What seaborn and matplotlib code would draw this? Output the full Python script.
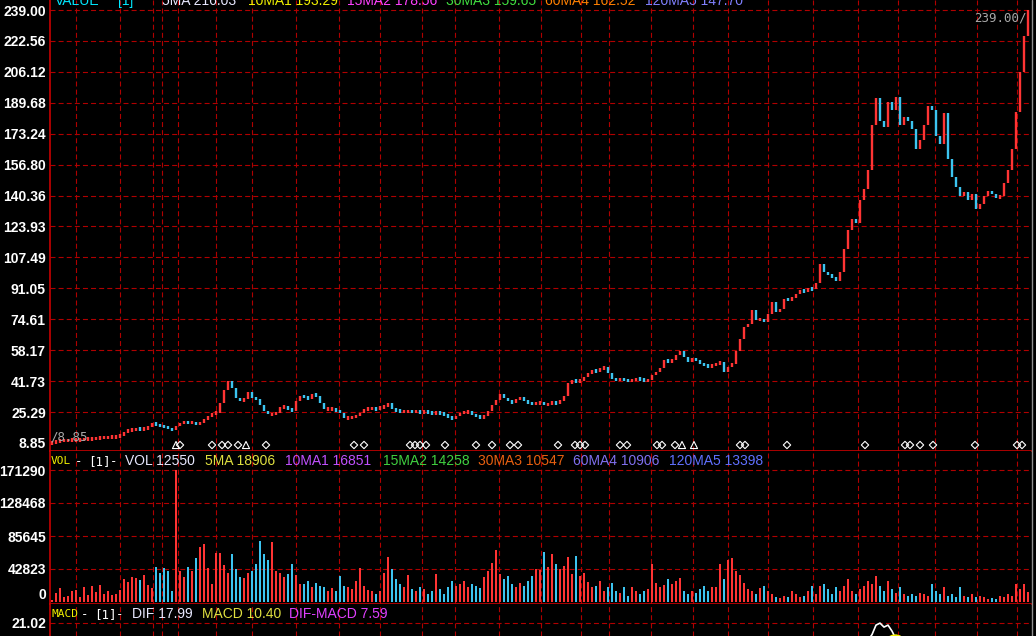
import numpy as np
import pandas as pd
import seaborn as sns
import matplotlib.pyplot as plt
from matplotlib.lines import Line2D

# --- данные (один бар = 2 торговых дня) ---
closes = [
    8.9, 9.6, 10.0, 10.2, 10.3, 10.4, 10.5, 10.7, 10.9, 11.0,
    11.2, 11.4, 11.6, 11.8, 11.9, 12.0, 12.3, 12.6, 14.5, 15.8,
    16.0, 16.2, 16.1, 16.4, 17.5, 19.5, 18.5, 17.8, 17.5, 16.5,
    15.5, 18.0, 19.5, 19.8, 19.5, 19.8, 18.8, 19.5, 21.5, 23.0,
    24.5, 25.0, 30.0, 37.0, 42.0, 38.0, 33.0, 31.0, 32.5, 36.0,
    33.0, 32.0, 29.0, 26.0, 24.0, 24.0, 25.0, 28.0, 28.0, 27.0,
    26.0, 31.0, 34.0, 33.0, 32.5, 35.0, 34.0, 30.0, 27.0, 27.0,
    27.0, 26.0, 25.0, 22.0, 22.0, 23.0, 23.0, 25.0, 27.0, 27.0,
    27.3, 26.8, 28.0, 28.0, 30.0, 27.0, 26.0, 25.5, 25.5, 25.8,
    25.4, 25.6, 25.3, 25.5, 25.0, 24.6, 25.0, 24.5, 24.0, 22.5,
    22.0, 23.0, 25.0, 25.0, 25.5, 24.0, 23.0, 22.5, 23.0, 26.0,
    29.0, 31.5, 35.0, 33.0, 31.0, 30.0, 32.0, 33.0, 31.5, 30.0,
    29.5, 30.0, 30.5, 29.0, 29.5, 30.5, 30.0, 31.0, 34.0, 40.5,
    42.3, 41.5, 42.0, 44.0, 45.8, 47.5, 46.8, 48.5, 49.0, 45.8,
    43.0, 42.3, 43.0, 42.3, 41.8, 42.3, 43.0, 42.5, 42.0, 42.3,
    45.0, 46.6, 48.5, 52.9, 52.0, 52.9, 55.5, 58.0, 54.6, 52.0,
    53.7, 52.9, 51.0, 50.2, 49.5, 50.2, 51.0, 52.0, 46.5, 49.3,
    51.0, 58.0, 64.3, 70.5, 72.0, 79.4, 74.0, 75.0, 73.0, 77.6,
    84.0, 78.5, 80.2, 85.5, 84.7, 86.0, 88.0, 90.0, 89.5, 91.0,
    90.5, 94.0, 104.0, 100.0, 98.0, 97.0, 95.0, 100.0, 112.0, 122.0,
    128.0, 126.0, 138.0, 144.0, 154.0, 178.0, 192.0, 180.0, 177.0, 190.0,
    186.0, 193.0, 178.0, 182.0, 180.0, 176.0, 165.0, 170.0, 178.0, 188.0,
    186.0, 172.0, 168.0, 184.0, 160.0, 150.0, 145.0, 140.0, 142.0, 138.0,
    141.0, 133.0, 136.0, 140.0, 143.0, 141.0, 139.0, 140.0, 147.0, 154.0,
    165.0, 185.0, 206.0, 225.0, 239.0,
]
first_open = 8.85

volumes = [
    3000, 12000, 18000, 6000, 8000, 14000, 15000, 7000, 20000, 9000,
    21000, 13000, 22000, 10000, 14000, 9000, 10000, 16000, 30000, 26000,
    33000, 31000, 28000, 35000, 22000, 18000, 45000, 38000, 44000, 40000,
    14000, 171290, 40000, 33000, 46000, 40000, 57000, 71000, 75000, 44000,
    23000, 63000, 63000, 48000, 38000, 62000, 43000, 32000, 31000, 37000,
    40000, 49000, 79000, 62000, 54000, 78000, 40000, 38000, 32000, 36000,
    49000, 35000, 23000, 24000, 27000, 19000, 25000, 21000, 19000, 14000,
    18000, 14000, 34000, 21000, 19000, 17000, 27000, 44000, 21000, 15000,
    14000, 10000, 14000, 38000, 58000, 43000, 30000, 23000, 19000, 35000,
    17000, 14000, 19000, 17000, 10000, 14000, 36000, 17000, 10000, 19000,
    27000, 21000, 23000, 27000, 19000, 24000, 21000, 18000, 32000, 40000,
    51000, 67000, 36000, 30000, 34000, 23000, 19000, 25000, 21000, 27000,
    34000, 43000, 41000, 65000, 45000, 62000, 49000, 43000, 47000, 58000,
    36000, 60000, 34000, 38000, 26000, 19000, 21000, 27000, 14000, 20000,
    25000, 14000, 12000, 19000, 8000, 20000, 14000, 10000, 14000, 17000,
    49000, 25000, 20000, 22000, 30000, 23000, 27000, 31000, 14000, 10000,
    14000, 12000, 17000, 21000, 14000, 19000, 19000, 49000, 30000, 54000,
    57000, 40000, 35000, 25000, 17000, 14000, 10000, 18000, 21000, 14000,
    10000, 6000, 5000, 8000, 6000, 14000, 10000, 7000, 8000, 14000,
    21000, 11000, 21000, 24000, 17000, 10000, 19000, 14000, 21000, 30000,
    14000, 10000, 17000, 21000, 27000, 24000, 34000, 21000, 14000, 27000,
    17000, 12000, 19000, 10000, 8000, 11000, 8000, 12000, 10000, 8000,
    23000, 14000, 10000, 19000, 8000, 10000, 6000, 19000, 8000, 7000,
    10000, 6000, 8000, 6000, 3500, 5000, 3500, 8000, 6000, 10000,
    8000, 23000, 17000, 23000, 12550,
]

price_ticks = [8.85, 25.29, 41.73, 58.17, 74.61, 91.05, 107.49, 123.93,
               140.36, 156.80, 173.24, 189.68, 206.12, 222.56, 239.00]
vol_ticks = [0, 42823, 85645, 128468, 171290]
macd_ticks = [21.02]

# границы месяцев (в номерах баров)
month_starts = [6, 17, 25.25, 27.5, 31.5, 41, 50, 61, 71.75, 82, 92.5, 100.75,
                111.75, 122.25, 132.25, 139.25, 149.75, 160.25, 169, 179,
                190.25, 201.5, 211.5, 220.75, 231.25, 241.25]

# сигнальные значки под графиком цены
diamond_idx = [32, 40, 42.5, 44, 46.5, 53.5, 75.5, 78, 89.5, 90.75, 92, 93.5,
               98.25, 106, 110, 114.5, 116.5, 126.5, 130.75, 132, 133.25, 142,
               143.75, 151.25, 152.5, 155.75, 172, 173.25, 183.75, 203.25,
               213.25, 214.5, 217, 220.25, 230.75, 241.25, 242.5]
triangle_idx = [31, 48.5, 157.5, 160.5]

# видимая часть MACD (панель обрезана снизу)
dif_idx = [204, 205, 206, 207, 208, 209, 210, 211]
dif_vals = [17.6, 18.7, 20.6, 21.0, 20.2, 20.6, 19.4, 17.8]
dea_idx = [209, 210, 211, 212]
dea_vals = [18.1, 18.5, 18.6, 18.4]

price_header = [("VALUE", "#00e8ff"), ("[1]", "#00e8ff"), ("5MA 216.03", "#e8e8ff"),
                ("10MA1 193.29", "#f0f000"), ("15MA2 178.56", "#ff40ff"),
                ("30MA3 159.65", "#40e040"), ("60MA4 162.52", "#ff8000"),
                ("120MA5 147.70", "#8080ff")]
vol_header = [("VOL 12550", "#e8e8ff"), ("5MA 18906", "#e0e040"),
              ("10MA1 16851", "#c050ff"), ("15MA2 14258", "#40d040"),
              ("30MA3 10547", "#e86010"), ("60MA4 10906", "#8070f0"),
              ("120MA5 13398", "#6070ff")]
macd_header = [("DIF 17.99", "#e8e8ff"), ("MACD 10.40", "#e0e040"),
               ("DIF-MACD 7.59", "#e040ff")]

# --- оформление ---
sns.set_theme(style="dark", rc={"axes.facecolor": "black", "figure.facecolor": "black"})
plt.rcParams['font.family'] = ['Liberation Sans', 'DejaVu Sans']

UP, DOWN = "#ff3434", "#3cc4f0"
GRID = "#b00000"
AXIS = "#c80000"
dash = (0, (4.5, 2.8))

W, H = 1036, 636
fig = plt.figure(figsize=(W / 100, H / 100), dpi=100, facecolor="black")


def panel(top, bottom):
    return fig.add_axes([50 / W, 1 - bottom / H, (1031 - 50) / W, (bottom - top) / H])


ax_p = panel(0, 451)
ax_v = panel(451, 604)
ax_m = panel(604, 636)

n = len(closes)
x = np.arange(n)
c = np.array(closes)
o = np.r_[first_open, c[:-1]]
up = c >= o
cols = np.where(up, UP, DOWN)

# пиксельная привязка шкал
pp = (239.00 - 8.85) / (443 - 10)
ax_p.set_ylim(8.85 - (451 - 443) * pp, 239.00 + 10 * pp)
vp = 171290 / (602 - 470)
ax_v.set_ylim(-(604 - 602) * vp, 171290 + (470 - 451) * vp)
mp = 0.2
ax_m.set_ylim(21.02 - (636 - 623) * mp, 21.02 + (623 - 604) * mp)

for ax in (ax_p, ax_v, ax_m):
    ax.set_xlim(-0.5, (1031 - 52) / 4)
    ax.set_facecolor("black")
    ax.grid(False)
    ax.set_xticks([])
    for s in ax.spines.values():
        s.set_visible(False)
    ax.spines["left"].set_visible(True)
    ax.spines["left"].set_color(AXIS)
    ax.spines["left"].set_linewidth(1.2)
    ax.tick_params(axis="y", length=0, pad=3)
    for m in month_starts:
        ax.axvline(m, color=GRID, lw=0.8, ls=dash, zorder=0)

for ax in (ax_p, ax_v):
    ax.spines["bottom"].set_visible(True)
    ax.spines["bottom"].set_color(AXIS)
    ax.spines["bottom"].set_linewidth(1.2)

for t in price_ticks[1:]:
    ax_p.axhline(t, color=GRID, lw=0.8, ls=dash, zorder=0)
for t in vol_ticks[1:]:
    ax_v.axhline(t, color=GRID, lw=0.8, ls=dash, zorder=0)
for t in macd_ticks:
    ax_m.axhline(t, color=GRID, lw=0.8, ls=dash, zorder=0)

lab = dict(color="white", fontsize=10, fontweight="bold")
ax_p.set_yticks(price_ticks)
ax_p.set_yticklabels([f"{t:.2f}" for t in price_ticks], **lab)
ax_v.set_yticks(vol_ticks)
ax_v.set_yticklabels([str(t) for t in vol_ticks], **lab)
ax_v.get_yticklabels()[0].set_va("bottom")
ax_m.set_yticks(macd_ticks)
ax_m.set_yticklabels([f"{t:.2f}" for t in macd_ticks], **lab)

# ценовые бары
lo = np.minimum(o, c)
hi = np.maximum(o, c)
mid = (lo + hi) / 2
half = np.maximum((hi - lo) / 2, 1.8 * pp)
ax_p.vlines(x, mid - half, mid + half, colors=cols, lw=1.7, zorder=3)

# значки сигналов
mark_y = 8.85 - 2 * pp
ax_p.scatter(diamond_idx, [mark_y] * len(diamond_idx), marker="D", s=14,
             facecolors="none", edgecolors="white", linewidths=0.8, zorder=4, clip_on=False)
ax_p.scatter(triangle_idx, [mark_y] * len(triangle_idx), marker="^", s=26,
             facecolors="none", edgecolors="white", linewidths=0.8, zorder=4, clip_on=False)

ax_p.annotate("/8.85", xy=(0, 8.85), xytext=(-1, 0), textcoords="offset points",
              ha="left", va="bottom", color="#a8a8a8", fontsize=9, family="DejaVu Sans Mono")
ax_p.annotate("239.00/", xy=(n - 1, 239.00), xytext=(-1, -1), textcoords="offset points",
              ha="right", va="top", color="#a8a8a8", fontsize=9, family="DejaVu Sans Mono")

# объёмы
ax_v.bar(x, volumes, width=0.55, color=cols, linewidth=0, zorder=3)

# MACD
sns.lineplot(x=dif_idx, y=dif_vals, ax=ax_m, color="white", lw=1.2, legend=False)
sns.lineplot(x=dea_idx, y=dea_vals, ax=ax_m, color="#f0f000", lw=1.2, legend=False)
ax_m.set_xlabel("")
ax_m.set_ylabel("")


def header(items, xs, base):
    for (txt, col), xp in zip(items, xs):
        fig.text(xp / W, 1 - base / H, txt, color=col, fontsize=10, va="baseline")


header(price_header, [55, 118, 162, 248, 347, 446, 545, 645], 5)
header(vol_header, [125, 205, 285, 383, 478, 573, 669], 465)
header(macd_header, [132, 202, 289], 618)

small = dict(family="DejaVu Sans Mono", va="baseline")
fig.text(51 / W, 1 - 464 / H, "VOL", color="#f0f000", fontsize=8, **small)
fig.text(51 / W, 1 - 617 / H, "MACD", color="#f0f000", fontsize=8, **small)
for txt, xp in (("-", 75), ("[1]", 88), ("-", 110)):
    fig.text(xp / W, 1 - 465 / H, txt, color="white", fontsize=9, **small)
for txt, xp in (("-", 81), ("[1]", 94), ("-", 116)):
    fig.text(xp / W, 1 - 618 / H, txt, color="white", fontsize=9, **small)

fig.add_artist(Line2D([1031.5 / W] * 2, [0, 1], color="#909090", lw=1,
                      transform=fig.transFigure))

fig.savefig("out.png", dpi=100, facecolor="black")
